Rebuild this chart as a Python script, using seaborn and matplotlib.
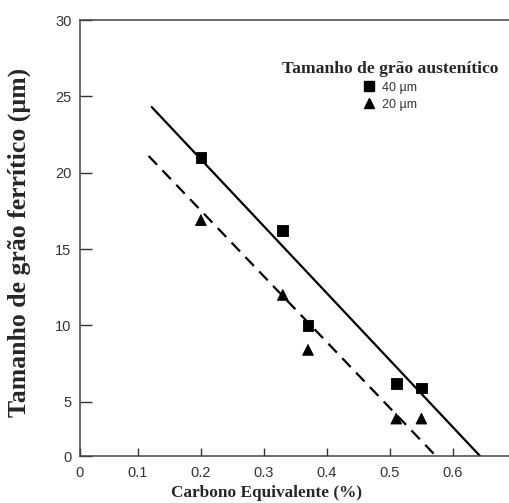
import pandas as pd
import matplotlib
matplotlib.use("Agg")
import matplotlib.pyplot as plt
import seaborn as sns
from matplotlib.lines import Line2D

# valores
carbono = [0.20, 0.33, 0.37, 0.51, 0.55]
grao_40 = [21.0, 16.2, 10.0, 6.2, 5.9]
grao_20 = [16.9, 12.0, 8.4, 3.9, 3.9]

# retas ajustadas (extremos; terminam sobre o eixo x)
reta_40_x = [0.122, 0.643]
reta_40_y = [24.3, 1.45]
reta_20_x = [0.117, 0.573]
reta_20_y = [21.1, 1.45]

grupos = ["40 µm", "20 µm"]
# no original o eixo x fica um pouco acima do zero da escala
eixo_x0 = 0.008
eixo_y0 = 1.45
xticks = [eixo_x0, 0.1, 0.2, 0.3, 0.4, 0.5, 0.6]
xtick_labels = ["0", "0.1", "0.2", "0.3", "0.4", "0.5", "0.6"]
yticks = [eixo_y0, 5, 10, 15, 20, 25, 30]
ytick_labels = ["0", "5", "10", "15", "20", "25", "30"]

pontos = pd.DataFrame({
    "carbono": carbono + carbono,
    "grao": grao_40 + grao_20,
    "grupo": [grupos[0]] * len(carbono) + [grupos[1]] * len(carbono),
})
retas = pd.DataFrame({
    "x": reta_40_x + reta_20_x,
    "y": reta_40_y + reta_20_y,
    "grupo": [grupos[0]] * 2 + [grupos[1]] * 2,
})

sns.set_style("ticks")
plt.rcParams["font.family"] = ["Liberation Sans", "DejaVu Sans"]

fig = plt.figure(figsize=(5.09, 5.03), dpi=100)
ax = fig.add_axes([0.157, 0.0934, 0.843, 0.8668])

sns.lineplot(data=retas, x="x", y="y", style="grupo", color="black",
             dashes={grupos[0]: "", grupos[1]: (5.5, 3.5)},
             linewidth=1.6, legend=False, ax=ax)
sns.scatterplot(data=pontos, x="carbono", y="grao", style="grupo",
                markers={grupos[0]: "s", grupos[1]: "^"}, color="black",
                edgecolor="black", s=60, legend=False, ax=ax, zorder=3)

ax.set_xlim(eixo_x0, 0.689)
ax.set_ylim(eixo_y0, 30)
ax.set_xticks(xticks)
ax.set_xticklabels(xtick_labels)
ax.set_yticks(yticks)
ax.set_yticklabels(ytick_labels)
ax.tick_params(direction="in", width=1, colors="#333333", labelsize=10.5)
ax.tick_params(axis="y", length=8.5, pad=6)
ax.tick_params(axis="x", length=6, pad=7)
for side in ["left", "bottom", "top"]:
    ax.spines[side].set_color("#444444")
    ax.spines[side].set_linewidth(1.1)
ax.spines["right"].set_visible(False)

serif_bold = {"family": "Liberation Serif", "weight": "bold"}
ax.set_xlabel("Carbono Equivalente (%)", fontdict={**serif_bold, "size": 12.4})
ax.set_ylabel("Tamanho de grão ferrítico (µm)", fontdict={**serif_bold, "size": 18.5})
ax.xaxis.set_label_coords(0.436, -0.066)
ax.yaxis.set_label_coords(-0.113, 0.49)

handles = [
    Line2D([], [], marker="s", color="black", linestyle="none", markersize=6.5),
    Line2D([], [], marker="^", color="black", linestyle="none", markersize=6.5),
]
leg = ax.legend(handles, grupos, title="Tamanho de grão austenítico",
                title_fontproperties={**serif_bold, "size": 12.6},
                prop={"family": "Liberation Sans", "size": 9},
                labelcolor="#333333",
                frameon=False, loc="upper center",
                bbox_to_anchor=(0.766, 0.879), bbox_transform=fig.transFigure,
                handlelength=1.0, handletextpad=0.6, labelspacing=0.4,
                borderaxespad=0, borderpad=0)

fig.savefig("out.png", dpi=100)
